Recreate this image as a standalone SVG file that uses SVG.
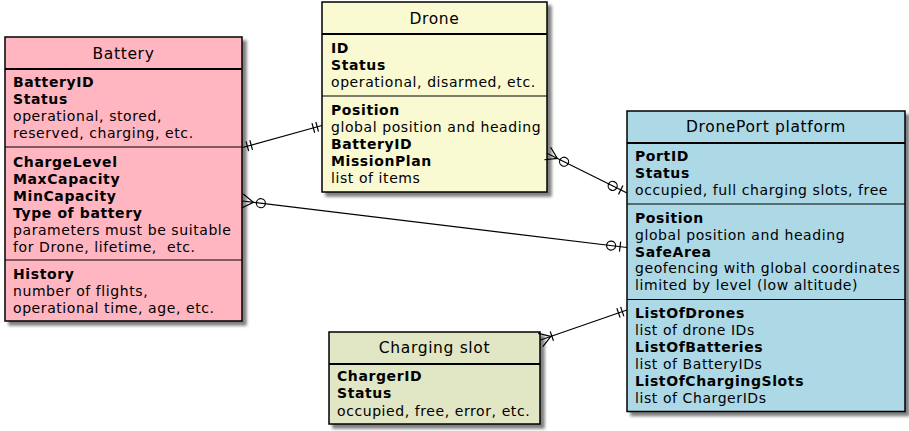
<svg xmlns="http://www.w3.org/2000/svg" width="909" height="431" viewBox="0 0 909 431">
  <style>
    text { font-family: "DejaVu Sans", "Liberation Sans", sans-serif; fill: #000; }
    .title { font-size: 15.5px; letter-spacing: 0.65px; text-anchor: middle; }
    .b { font-size: 14px; font-weight: bold; letter-spacing: 0.6px; }
    .r { font-size: 14px; letter-spacing: 0.58px; }
    .box { stroke: #000; stroke-width: 1.5; filter: url(#shadow); }
    .hsep { stroke: #000; stroke-width: 2; }
    .sep { stroke: #000; stroke-width: 1; }
    .link { stroke: #000; stroke-width: 1.2; fill: none; }
    .mk { stroke: #000; stroke-width: 1.2; fill: none; }
  </style>
  <defs>
    <filter id="shadow" x="-10%" y="-10%" width="125%" height="125%">
      <feGaussianBlur in="SourceAlpha" stdDeviation="1.5"/>
      <feOffset dx="4" dy="4" result="off"/>
      <feComponentTransfer>
        <feFuncA type="linear" slope="0.5"/>
      </feComponentTransfer>
      <feMerge>
        <feMergeNode/>
        <feMergeNode in="SourceGraphic"/>
      </feMerge>
    </filter>
    <!-- exactly one: ||  (tip of the line at 0,0, line arrives from -x) -->
    <marker id="one" markerUnits="userSpaceOnUse" viewBox="-25 -10 30 20" refX="0" refY="0" markerWidth="30" markerHeight="20" orient="auto-start-reverse">
      <path class="mk" d="M-5,-5V5M-9,-5V5"/>
    </marker>
    <!-- zero or one: |o -->
    <marker id="zeroOrOne" markerUnits="userSpaceOnUse" viewBox="-25 -10 30 20" refX="0" refY="0" markerWidth="30" markerHeight="20" orient="auto-start-reverse">
      <path class="mk" d="M-7,-5V5"/>
      <circle class="mk" cx="-16" cy="0" r="4.5"/>
    </marker>
    <!-- zero or many: }o -->
    <marker id="zeroOrMany" markerUnits="userSpaceOnUse" viewBox="-25 -10 30 20" refX="0" refY="0" markerWidth="30" markerHeight="20" orient="auto-start-reverse">
      <path class="mk" d="M0,-7L-11,0L0,7"/>
      <circle class="mk" cx="-18.5" cy="0" r="4.5"/>
    </marker>
    <!-- one or many: }| -->
    <marker id="oneOrMany" markerUnits="userSpaceOnUse" viewBox="-25 -10 30 20" refX="0" refY="0" markerWidth="30" markerHeight="20" orient="auto-start-reverse">
      <path class="mk" d="M0,-7L-11,0L0,7M-12,-5V5"/>
    </marker>
  </defs>

  <g id="battery">
    <rect class="box" x="5" y="37" width="237" height="284" fill="#FFB6C1"/>
    <line class="hsep" x1="5" y1="69" x2="242" y2="69"/>
    <line class="sep" x1="5" y1="147" x2="242" y2="147"/>
    <line class="sep" x1="5" y1="260" x2="242" y2="260"/>
    <text class="title" x="123.5" y="58.5">Battery</text>
    <text class="b" x="13" y="87.3">BatteryID</text>
    <text class="b" x="13" y="104.3">Status</text>
    <text class="r" x="13" y="121.3">operational, stored,</text>
    <text class="r" x="13" y="138.3">reserved, charging, etc.</text>
    <text class="b" x="13" y="166.7">ChargeLevel</text>
    <text class="b" x="13" y="183.7">MaxCapacity</text>
    <text class="b" x="13" y="200.7">MinCapacity</text>
    <text class="b" x="13" y="217.7">Type of battery</text>
    <text class="r" x="13" y="234.7">parameters must be suitable</text>
    <text class="r" x="13" y="251.7" xml:space="preserve">for Drone, lifetime,  etc.</text>
    <text class="b" x="13" y="279">History</text>
    <text class="r" x="13" y="296">number of flights,</text>
    <text class="r" x="13" y="313">operational time, age, etc.</text>
  </g>

  <g id="drone">
    <rect class="box" x="322" y="2" width="225" height="190" fill="#F9F9D2"/>
    <line class="hsep" x1="322" y1="34" x2="547" y2="34"/>
    <line class="sep" x1="322" y1="96" x2="547" y2="96"/>
    <text class="title" x="434.5" y="24">Drone</text>
    <text class="b" x="331" y="52.7">ID</text>
    <text class="b" x="331" y="69.7">Status</text>
    <text class="r" x="331" y="86.7">operational, disarmed, etc.</text>
    <text class="b" x="331" y="115">Position</text>
    <text class="r" x="331" y="132">global position and heading</text>
    <text class="b" x="331" y="149">BatteryID</text>
    <text class="b" x="331" y="166">MissionPlan</text>
    <text class="r" x="331" y="183">list of items</text>
  </g>

  <g id="droneport">
    <rect class="box" x="627" y="111" width="278" height="300.5" fill="#ADD8E6"/>
    <line class="hsep" x1="627" y1="143" x2="905" y2="143"/>
    <line class="sep" x1="627" y1="204" x2="905" y2="204"/>
    <line class="sep" x1="627" y1="299.5" x2="905" y2="299.5"/>
    <text class="title" x="766" y="131.7">DronePort platform</text>
    <text class="b" x="635" y="161">PortID</text>
    <text class="b" x="635" y="178">Status</text>
    <text class="r" x="635" y="195">occupied, full charging slots, free</text>
    <text class="b" x="635" y="222.7">Position</text>
    <text class="r" x="635" y="239.6">global position and heading</text>
    <text class="b" x="635" y="256.5">SafeArea</text>
    <text class="r" x="635" y="273.4">geofencing with global coordinates</text>
    <text class="r" x="635" y="290.3">limited by level (low altitude)</text>
    <text class="b" x="635" y="318.3">ListOfDrones</text>
    <text class="r" x="635" y="335.2">list of drone IDs</text>
    <text class="b" x="635" y="352.1">ListOfBatteries</text>
    <text class="r" x="635" y="369">list of BatteryIDs</text>
    <text class="b" x="635" y="385.9">ListOfChargingSlots</text>
    <text class="r" x="635" y="402.8">list of ChargerIDs</text>
  </g>

  <g id="charging-slot">
    <rect class="box" x="329" y="332" width="211" height="92" fill="#E1E6C4"/>
    <line class="hsep" x1="329" y1="364" x2="540" y2="364"/>
    <text class="title" x="434.5" y="353.3">Charging slot</text>
    <text class="b" x="337" y="381.3">ChargerID</text>
    <text class="b" x="337" y="398.3">Status</text>
    <text class="r" x="337" y="415.5">occupied, free, error, etc.</text>
  </g>

  <g id="connectors">
    <!-- Battery || — || Drone -->
    <path class="link" d="M242.5,147.5L322,125.5" marker-start="url(#one)" marker-end="url(#one)"/>
    <!-- Battery }o — o| DronePort -->
    <path class="link" d="M242.5,201L627,247.5" marker-start="url(#zeroOrMany)" marker-end="url(#zeroOrOne)"/>
    <!-- Drone }o — o| DronePort -->
    <path class="link" d="M547.5,153.5L627,193" marker-start="url(#zeroOrMany)" marker-end="url(#zeroOrOne)"/>
    <!-- Charging slot }| — || DronePort -->
    <path class="link" d="M540.5,340L627,310" marker-start="url(#oneOrMany)" marker-end="url(#one)"/>
  </g>
</svg>
